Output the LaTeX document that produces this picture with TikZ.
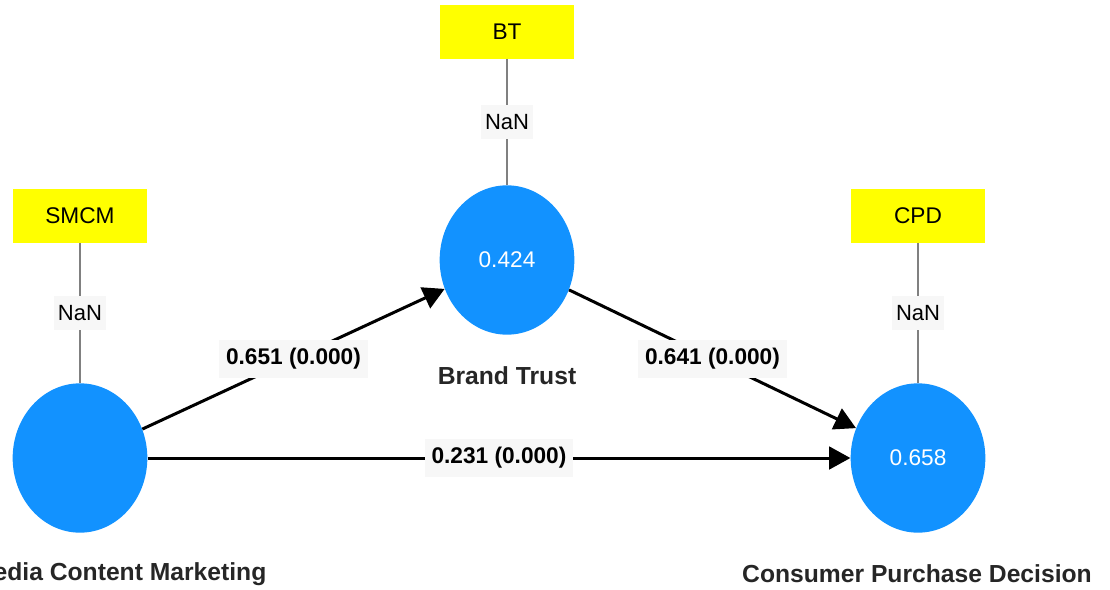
\documentclass[tikz,border=0pt]{standalone}
\usepackage{fontspec}
\setmainfont{Liberation Sans}
\definecolor{lvblue}{HTML}{1292FF}
\definecolor{indyellow}{HTML}{FFFF00}
\definecolor{lblfill}{HTML}{F7F7F7}
\usetikzlibrary{shapes.geometric, arrows.meta}

\begin{document}
\begin{tikzpicture}[x=0.75pt, y=-0.75pt,
  latent/.style={ellipse, fill=lvblue, minimum width=101pt, minimum height=112pt,
                 inner sep=0pt, text=white, font=\fontsize{17}{20}\selectfont},
  ind/.style={fill=indyellow, minimum width=101pt, minimum height=40pt,
              inner sep=0pt, font=\fontsize{17}{20}\selectfont},
  load/.style={draw=gray, line width=1.9pt},
  nan/.style={fill=lblfill, inner xsep=3pt, inner ysep=7pt, font=\fontsize{16.5}{20}\selectfont},
  coef/.style={fill=lblfill, inner xsep=5pt, inner ysep=6pt, font=\bfseries\fontsize{17}{20}\selectfont},
  arr/.style={-{Triangle[length=16pt, width=17pt]}, line width=2.25pt},
  cname/.style={text=black!85, font=\bfseries\fontsize{18.5}{22}\selectfont},
]
\useasboundingbox (0,0) rectangle (1110,589);

% constructs
\node[latent] (smcm) at (80,458) {};
\node[latent] (bt) at (507,260) {0.424};
\node[latent] (cpd) at (918,458) {0.658};

% indicators
\node[ind] (smcmInd) at (80,216) {SMCM};
\node[ind] (btInd) at (507,32) {BT};
\node[ind] (cpdInd) at (918,216) {CPD};

\draw[load] (smcmInd) -- node[nan] {NaN} (smcm);
\draw[load] (btInd) -- node[nan] {NaN} (bt);
\draw[load] (cpdInd) -- node[nan] {NaN} (cpd);

% paths
\draw[arr] (smcm) -- node[coef] {0.651 (0.000)} (bt);
\draw[arr] (bt) -- node[coef] {0.641 (0.000)} (cpd);
\draw[arr] (smcm) -- node[coef] {0.231 (0.000)} (cpd);

\node[cname] (smcmName) at (80,574) {Social Media Content Marketing};
\node[cname] (btName) at (507,376) {Brand Trust};
\node[cname] (cpdName) at (917,574) {Consumer Purchase Decision};
\end{tikzpicture}
\end{document}
